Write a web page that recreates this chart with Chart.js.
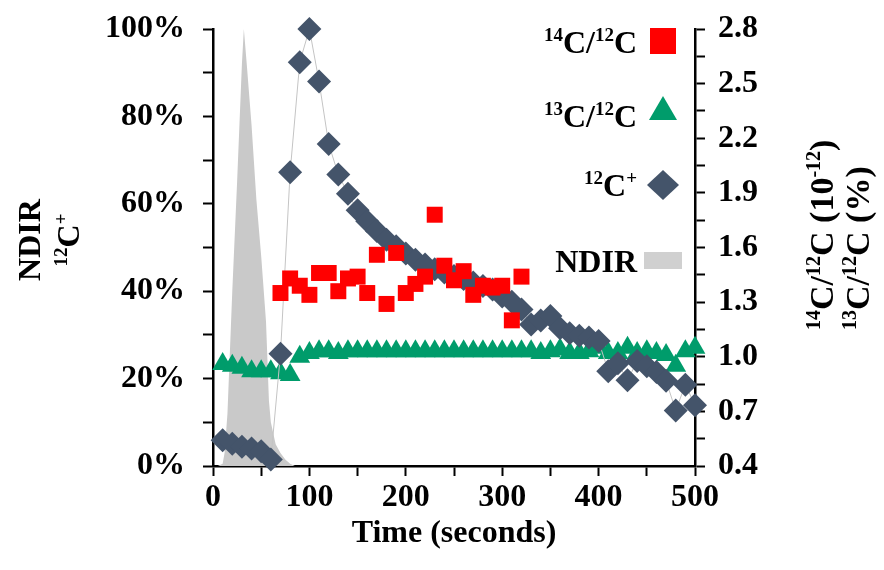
<!DOCTYPE html>
<html>
<head>
<meta charset="utf-8">
<script src="https://cdn.jsdelivr.net/npm/chart.js@4.4.1/dist/chart.umd.min.js"></script>
<style>
    html, body { margin: 0; padding: 0; background: #fff; }
</style>
</head>
<body>
<canvas id="chart" width="884" height="570"></canvas>
<script>
// time axis (seconds) and values

const timeC12 = [10, 20, 30, 40, 50, 60, 70, 80, 90, 100, 110, 120, 130, 140, 150, 160, 170, 180, 190, 200,
    210, 220, 230, 240, 250, 260, 270, 280, 290, 300, 310, 320, 330, 340, 350, 360, 370, 380, 390, 400,
    410, 420, 430, 440, 450, 460, 470, 480, 490, 500];
const c12Values = [5.9, 5.1, 4.4, 4.0, 3.4, 1.5, 25.7, 67.2, 92.4, 100, 88.0, 73.7, 66.7, 62.3, 58.5, 56.0, 53.8, 51.8, 50.3, 48.6,
    47.2, 46.1, 45.0, 44.3, 43.5, 42.8, 42.0, 41.2, 40.4, 38.8, 37.6, 35.8, 32.4, 33.3, 34.3, 31.5, 30.4, 29.8, 29.4, 28.6,
    21.7, 23.5, 19.6, 24.0, 22.8, 21.5, 19.5, 12.7, 18.6, 13.9];

const timeC14 = [70, 80, 90, 100, 110, 120, 130, 140, 150, 160, 170, 180, 190, 200, 210, 220, 230, 240, 250, 260,
    270, 280, 290, 300, 310, 320];
const c14Values = [1.35, 1.43, 1.39, 1.34, 1.46, 1.46, 1.36, 1.43, 1.44, 1.35, 1.56, 1.29, 1.57, 1.35, 1.40, 1.44, 1.78, 1.50, 1.42, 1.47,
    1.34, 1.39, 1.38, 1.39, 1.20, 1.44];

const timeC13 = timeC12;
const c13Values = [0.96, 0.95, 0.94, 0.92, 0.92, 0.92, 0.91, 0.90, 1.00, 1.02, 1.03, 1.03, 1.02, 1.03, 1.03, 1.03, 1.03, 1.03, 1.03, 1.03,
    1.03, 1.03, 1.03, 1.03, 1.03, 1.03, 1.03, 1.03, 1.03, 1.03, 1.03, 1.03, 1.03, 1.02, 1.03, 1.04, 1.02, 1.02, 1.03, 1.05,
    1.02, 1.02, 1.05, 1.02, 1.03, 1.02, 1.01, 0.95, 1.03, 1.05];

const timeNdir = [0, 5, 10, 12, 15, 20, 25, 30, 32, 35, 40, 45, 50, 55, 58, 60, 65, 70, 75, 80, 85];
const ndirValues = [0, 0, 0.5, 3, 12, 40, 65, 92, 100, 92, 78, 61, 48, 33, 15, 10, 5, 3, 1.5, 0.5, 0];

const FONT = '"Liberation Serif", "Times New Roman", serif';

function toPoints(xs, ys) {
    return xs.map((x, i) => ({ x, y: ys[i] }));
}

/**
 * Draws text made of parts, some of them superscript, on the current baseline
 */
function drawRich(ctx, parts, x, y, size, align) {
    const supSize = Math.round(size * 0.6);
    const widths = parts.map(p => {
        ctx.font = `bold ${p.sup ? supSize : size}px ${FONT}`;
        return ctx.measureText(p.t).width;
    });
    const total = widths.reduce((a, b) => a + b, 0);
    let cx = align === 'right' ? x - total : align === 'center' ? x - total / 2 : x;

    ctx.textAlign = 'left';
    ctx.textBaseline = 'alphabetic';
    parts.forEach((p, i) => {
        ctx.font = `bold ${p.sup ? supSize : size}px ${FONT}`;
        ctx.fillText(p.t, cx, p.sup ? y - size * 0.38 : y);
        cx += widths[i];
    });
}

const ratio14 = [{ t: '14', sup: true }, { t: 'C/' }, { t: '12', sup: true }, { t: 'C' }];
const ratio13 = [{ t: '13', sup: true }, { t: 'C/' }, { t: '12', sup: true }, { t: 'C' }];
const ion12 = [{ t: '12', sup: true }, { t: 'C' }, { t: '+', sup: true }];

const richTextPlugin = {
    id: 'richText',
    afterDraw(chart) {
        const ctx = chart.ctx;
        ctx.save();
        ctx.fillStyle = '#000';

        // legend, inside the plot at the top right
        const markerX = 663;
        drawRich(ctx, ratio14, 637, 53, 32, 'right');
        ctx.fillStyle = '#FF0000';
        ctx.fillRect(markerX - 13, 28, 26, 26);

        ctx.fillStyle = '#000';
        drawRich(ctx, ratio13, 637, 127, 32, 'right');
        ctx.fillStyle = '#009C6B';
        ctx.beginPath();
        ctx.moveTo(markerX, 96);
        ctx.lineTo(markerX + 14, 120);
        ctx.lineTo(markerX - 14, 120);
        ctx.closePath();
        ctx.fill();

        ctx.fillStyle = '#000';
        drawRich(ctx, ion12, 637, 196, 32, 'right');
        ctx.fillStyle = '#44546A';
        ctx.beginPath();
        ctx.moveTo(markerX, 170);
        ctx.lineTo(markerX + 16, 185);
        ctx.lineTo(markerX, 200);
        ctx.lineTo(markerX - 16, 185);
        ctx.closePath();
        ctx.fill();

        ctx.fillStyle = '#000';
        drawRich(ctx, [{ t: 'NDIR' }], 637, 272, 32, 'right');
        ctx.fillStyle = '#D0D0D0';
        ctx.fillRect(markerX - 19, 252, 38, 17);

        // left axis title, two rotated lines
        ctx.fillStyle = '#000';
        ctx.save();
        ctx.translate(29, 240);
        ctx.rotate(-Math.PI / 2);
        drawRich(ctx, [{ t: 'NDIR' }], 0, 11, 32, 'center');
        ctx.restore();
        ctx.save();
        ctx.translate(68, 240);
        ctx.rotate(-Math.PI / 2);
        drawRich(ctx, ion12, 0, 11, 32, 'center');
        ctx.restore();

        // right axis title, two rotated lines starting at the same height
        ctx.save();
        ctx.translate(822, 330);
        ctx.rotate(-Math.PI / 2);
        drawRich(ctx, ratio14.concat([{ t: ' (10' }, { t: '-12', sup: true }, { t: ')' }]), 0, 11, 34, 'left');
        ctx.restore();
        ctx.save();
        ctx.translate(858, 330);
        ctx.rotate(-Math.PI / 2);
        drawRich(ctx, ratio13.concat([{ t: ' (%)' }]), 0, 11, 34, 'left');
        ctx.restore();

        ctx.restore();
    }
};

const axisGrid = {
    display: true,
    drawOnChartArea: false,
    drawTicks: true,
    tickLength: 10,
    tickWidth: 2,
    tickColor: '#000'
};
const axisBorder = { display: true, color: '#000', width: 2.5 };
const tickFont = { family: FONT, size: 32, weight: 'bold', lineHeight: 1.2 };

// fixed box sizes so the plot area lands where it is in the figure
function fixVertical(width) {
    return scale => {
        scale.width = width;
        scale.paddingTop = 0;
        scale.paddingBottom = 0;
    };
}

new Chart(document.getElementById('chart'), {
    type: 'scatter',
    data: {
        datasets: [
            {
                label: '14C/12C',
                data: toPoints(timeC14, c14Values),
                yAxisID: 'y2',
                pointStyle: 'rect',
                pointRadius: 11.3,
                pointBackgroundColor: '#FF0000',
                pointBorderWidth: 0,
                clip: false,
                order: 0
            },
            {
                label: '12C+',
                data: toPoints(timeC12, c12Values),
                yAxisID: 'y',
                showLine: true,
                borderColor: '#C4C4C4',
                borderWidth: 1,
                pointStyle: 'rectRot',
                pointRadius: 12,
                pointBackgroundColor: '#44546A',
                pointBorderColor: '#44546A',
                pointBorderWidth: 0,
                clip: false,
                order: 1
            },
            {
                label: '13C/12C',
                data: toPoints(timeC13, c13Values),
                yAxisID: 'y2',
                pointStyle: 'triangle',
                pointRadius: 12,
                pointBackgroundColor: '#009C6B',
                pointBorderWidth: 0,
                clip: false,
                order: 2
            },
            {
                type: 'line',
                label: 'NDIR',
                data: toPoints(timeNdir, ndirValues),
                yAxisID: 'y',
                fill: 'origin',
                backgroundColor: '#C9C9C9',
                borderColor: '#C9C9C9',
                borderWidth: 0,
                pointRadius: 0,
                tension: 0,
                order: 3
            }
        ]
    },
    options: {
        responsive: false,
        animation: false, // static picture
        devicePixelRatio: 1,
        layout: { padding: { top: 29, right: 0, bottom: 0, left: 0 } },
        plugins: {
            legend: { display: false },
            tooltip: { enabled: false }
        },
        scales: {
            x: {
                type: 'linear',
                min: 0,
                max: 500,
                grid: axisGrid,
                border: axisBorder,
                ticks: {
                    stepSize: 50,
                    autoSkip: false,
                    maxRotation: 0,
                    padding: 3,
                    color: '#000',
                    font: tickFont,
                    callback: v => (v % 100 === 0 ? String(v) : '')
                },
                title: {
                    display: true,
                    text: 'Time (seconds)',
                    color: '#000',
                    font: { family: FONT, size: 32, weight: 'bold', lineHeight: 1.2 },
                    padding: { top: 0, bottom: 17 }
                },
                afterFit: scale => { scale.height = 104; }
            },
            y: {
                position: 'left',
                min: 0,
                max: 100,
                grid: axisGrid,
                border: axisBorder,
                ticks: {
                    stepSize: 10,
                    autoSkip: false,
                    padding: 18,
                    color: '#000',
                    font: tickFont,
                    callback: v => (v % 20 === 0 ? v + '%' : '')
                },
                afterFit: fixVertical(213)
            },
            y2: {
                position: 'right',
                min: 0.4,
                max: 2.8,
                grid: axisGrid,
                border: axisBorder,
                ticks: {
                    stepSize: 0.15,
                    autoSkip: false,
                    padding: 13,
                    color: '#000',
                    font: tickFont,
                    callback: v => (Math.round((v - 0.4) / 0.15) % 2 === 0 ? v.toFixed(1) : '')
                },
                afterFit: fixVertical(189)
            }
        }
    },
    plugins: [richTextPlugin]
});
</script>
</body>
</html>
